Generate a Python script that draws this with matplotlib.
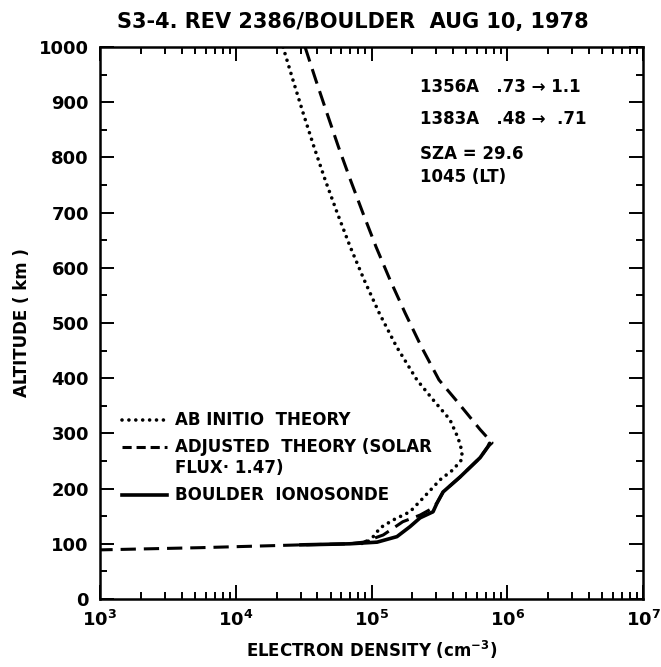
import numpy as np
import matplotlib as mpl
import matplotlib.pyplot as plt
from matplotlib.ticker import MultipleLocator, LogLocator, FixedLocator, NullFormatter

mpl.rcParams['font.family'] = ['DejaVu Sans']
mpl.rcParams['font.weight'] = 'bold'
mpl.rcParams['axes.labelweight'] = 'bold'
mpl.rcParams['mathtext.default'] = 'bf'
mpl.rcParams['axes.linewidth'] = 1.8

# ab initio theory (dotted)
alt_ab = [1000, 940, 880, 819, 759, 699, 638, 578, 518, 457, 397, 361, 325,
          292, 267, 252, 234, 216, 183, 158, 143, 129, 113, 103, 99]
ne_ab = [2.23e4, 2.64e4, 3.14e4, 3.77e4, 4.56e4, 5.60e4, 6.97e4, 8.83e4,
         1.14e5, 1.53e5, 2.16e5, 2.84e5, 3.78e5, 4.34e5, 4.65e5, 4.60e5,
         3.98e5, 3.20e5, 2.40e5, 1.92e5, 1.44e5, 1.16e5, 1.03e5, 9.3e4, 7.9e4]

# adjusted theory, solar flux x 1.47 (dashed)
alt_adj = [1000, 940, 880, 819, 759, 699, 638, 578, 518, 457, 397, 361, 307,
           283, 276, 256, 221, 194, 174, 165, 152, 140, 116, 103, 100, 98, 93, 89]
ne_adj = [3.24e4, 3.89e4, 4.70e4, 5.71e4, 7.00e4, 8.65e4, 1.08e5, 1.37e5,
          1.77e5, 2.33e5, 3.14e5, 4.17e5, 6.31e5, 7.73e5, 7.21e5, 6.31e5,
          4.49e5, 3.37e5, 3.04e5, 2.84e5, 2.28e5, 1.70e5, 1.22e5, 8.71e4,
          6.92e4, 2.95e4, 5.5e3, 1.0e3]

# Boulder ionosonde (solid)
alt_ion = [282, 276, 256, 221, 194, 174, 158, 147, 131, 113, 103, 100, 98]
ne_ion = [7.41e5, 7.21e5, 6.31e5, 4.49e5, 3.37e5, 3.04e5, 2.84e5, 2.28e5,
          1.92e5, 1.54e5, 1.10e5, 6.92e4, 2.95e4]

xtick_vals = [1e3, 1e4, 1e5, 1e6, 1e7]
xtick_labels = [r'$10^{3}$', r'$10^{4}$', r'$10^{5}$', r'$10^{6}$', r'$10^{7}$']

notes = ['1356A   .73 \u2192 1.1', '1383A   .48 \u2192  .71', 'SZA = 29.6', '1045 (LT)']
legend_labels = ['AB INITIO  THEORY', 'ADJUSTED  THEORY (SOLAR', 'FLUX\u00b7 1.47)',
                 'BOULDER  IONOSONDE']

fig = plt.figure(figsize=(6.61, 6.67), dpi=100)
ax = fig.add_axes([100 / 661, 1 - 599 / 667, 543 / 661, 552 / 667])

ax.plot(ne_ab, alt_ab, color='black', lw=2.6, linestyle=(0, (0.01, 1.9)),
        dash_capstyle='round')
ax.plot(ne_adj, alt_adj, color='black', lw=2.2, linestyle=(0, (5, 2.6)))
ax.plot(ne_ion, alt_ion, color='black', lw=2.6, solid_capstyle='round')

ax.set_xscale('log')
ax.set_xlim(1e3, 1e7)
ax.set_ylim(0, 1000)

ax.xaxis.set_major_locator(FixedLocator(xtick_vals))
ax.set_xticklabels(xtick_labels, fontsize=13)
ax.xaxis.set_minor_locator(LogLocator(base=10, subs=np.arange(2, 10)))
ax.xaxis.set_minor_formatter(NullFormatter())
ax.yaxis.set_major_locator(MultipleLocator(100))
ax.yaxis.set_minor_locator(MultipleLocator(50))
ax.tick_params(which='both', direction='in', top=True, right=True, width=1.4)
ax.tick_params(which='major', length=10, labelsize=13, pad=8)
ax.tick_params(which='minor', length=5)
ax.tick_params(axis='x', which='major', pad=8)

ax.set_xlabel('ELECTRON DENSITY (cm$^{-3}$)', fontsize=12, labelpad=6)
ax.set_ylabel('ALTITUDE ( km )', fontsize=12, labelpad=6)
fig.text(353 / 661, 1 - 22 / 667, 'S3-4. REV 2386/BOULDER  AUG 10, 1978',
         ha='center', va='center', fontsize=15)

for txt, y in zip(notes, [0.928, 0.869, 0.806, 0.764]):
    ax.text(0.590, y, txt, transform=ax.transAxes, fontsize=12, va='center')

# hand-drawn key
styles = [dict(lw=2.6, linestyle=(0, (0.01, 1.9)), dash_capstyle='round'),
          dict(lw=2.2, linestyle=(0, (3, 1.6))),
          None,
          dict(lw=2.6)]
for txt, y, st in zip(legend_labels, [0.325, 0.276, 0.238, 0.189], styles):
    if st is not None:
        ax.plot([0.04, 0.123], [y, y], transform=ax.transAxes, color='black', **st)
    ax.text(0.138, y, txt, transform=ax.transAxes, fontsize=12, va='center')

fig.savefig('out.png', dpi=100)
